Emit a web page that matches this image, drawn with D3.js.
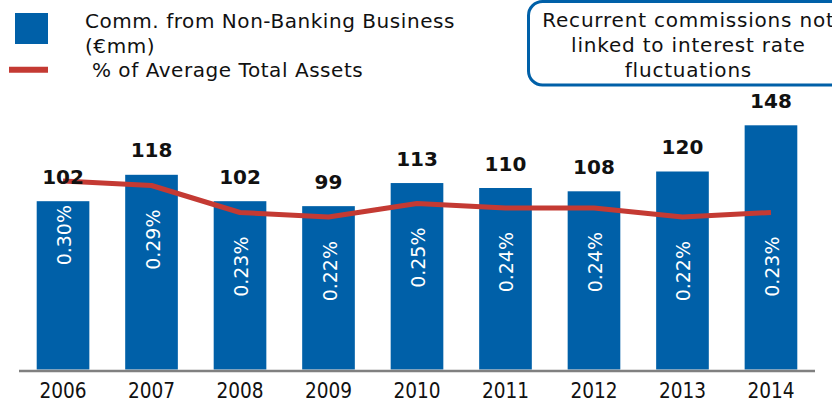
<!DOCTYPE html>
<html><head><meta charset="utf-8">
<script src="https://cdn.jsdelivr.net/npm/d3@7"></script>
<style>
html,body{margin:0;padding:0;background:#fff;}
svg{display:block;font-family:"DejaVu Sans",Verdana,sans-serif;}
</style></head>
<body>
<svg id="chart" width="832" height="401"></svg>
<script>
const years = ["2006","2007","2008","2009","2010","2011","2012","2013","2014"];
const commissions = [102,118,102,99,113,110,108,120,148];
const pctAssets = [0.30,0.29,0.23,0.22,0.25,0.24,0.24,0.22,0.23];
const legendLabels = ["Comm. from Non-Banking Business", "(\u20ACmm)", " % of Average Total Assets"];
const noteLines = ["Recurrent commissions not", "linked to interest rate", "fluctuations"];

const blue = "#0060a8", red = "#c43a33";
const svg = d3.select("#chart");

const x = d3.scaleBand().domain(years).range([19, 815]).paddingInner(0.405).paddingOuter(0.2);
const y = d3.scaleLinear().domain([0, 160]).range([369.5, 105.5]);
const y2 = d3.scaleLinear().domain([0.22, 0.30]).range([217, 181]);

// bars
svg.selectAll("rect.bar").data(years).enter().append("rect")
  .attr("class","bar")
  .attr("x", d => x(d)).attr("width", x.bandwidth())
  .attr("y", (d,i) => y(commissions[i]))
  .attr("height", (d,i) => y(0) - y(commissions[i]))
  .attr("fill", blue);

// axis
const axis = d3.axisBottom(x).tickSize(0).tickPadding(12.5);
const gx = svg.append("g").attr("transform","translate(0,371)").call(axis);
gx.select(".domain").attr("stroke","#808080").attr("stroke-width",2.6).attr("d","M19,0H815");
gx.selectAll("text").attr("font-size",20.6).attr("fill","#111").attr("font-family","'DejaVu Sans Condensed','DejaVu Sans',sans-serif");

// line
const line = d3.line().x((d,i) => x(years[i]) + x.bandwidth()/2).y(d => y2(d));
svg.append("path").datum(pctAssets).attr("d", line)
  .attr("fill","none").attr("stroke", red).attr("stroke-width",5).attr("stroke-linejoin","round");

// value labels
svg.selectAll("text.val").data(years).enter().append("text")
  .attr("class","val")
  .attr("x", d => x(d) + x.bandwidth()/2)
  .attr("y", (d,i) => y(commissions[i]) - 17.5)
  .attr("text-anchor","middle").attr("font-size",20).attr("font-weight","bold").attr("fill","#111")
  .text((d,i) => commissions[i]);

// percentage labels
svg.selectAll("text.pct").data(years).enter().append("text")
  .attr("class","pct")
  .attr("transform", (d,i) => `translate(${x(d) + x.bandwidth()/2 + 8},${y2(pctAssets[i]) + 24}) rotate(-90)`)
  .attr("text-anchor","end").attr("font-size",19).attr("fill","#fff")
  .text((d,i) => pctAssets[i].toFixed(2) + "%");

// legend
svg.append("rect").attr("x",15).attr("y",13).attr("width",33).attr("height",31).attr("fill",blue);
svg.append("line").attr("x1",9).attr("x2",48).attr("y1",69.7).attr("y2",69.7).attr("stroke",red).attr("stroke-width",6);
const lg = svg.append("g").attr("font-size",20).attr("fill","#111").attr("letter-spacing",0.55);
lg.append("text").attr("x",85).attr("y",28).text(legendLabels[0]);
lg.append("text").attr("x",85).attr("y",53).text(legendLabels[1]);
lg.append("text").attr("x",85).attr("y",77).attr("xml:space","preserve").style("white-space","pre").text(legendLabels[2]);

// note box
svg.append("rect").attr("x",528.5).attr("y",1.5).attr("width",330).attr("height",83.5)
  .attr("rx",14).attr("fill","#fff").attr("stroke",blue).attr("stroke-width",3);
svg.append("g").attr("letter-spacing",0.8).selectAll("text").data(noteLines).enter().append("text")
  .attr("x",688.4).attr("y",(d,i) => 27 + i*24.8)
  .attr("text-anchor","middle").attr("font-size",20).attr("fill","#111")
  .text(d => d);
</script>
</body></html>
